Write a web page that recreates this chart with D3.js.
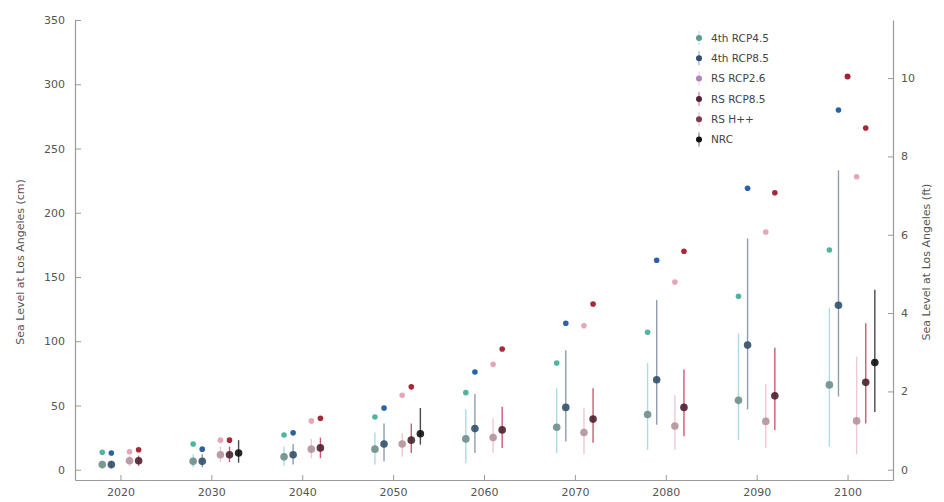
<!DOCTYPE html>
<html><head><meta charset="utf-8">
<script src="https://cdn.jsdelivr.net/npm/d3@7"></script>
<style>body{margin:0;background:#fff}svg{display:block}text{font-family:"DejaVu Sans",sans-serif}</style>
</head><body>
<svg id="c" width="944" height="502"></svg>
<script>
const decades = [2020, 2030, 2040, 2050, 2060, 2070, 2080, 2090, 2100];
const seriesNames = ["4th RCP4.5", "4th RCP8.5", "RS RCP2.6", "RS RCP8.5", "RS H++", "NRC"];

const rcp45_4th_median = [4, 6.5, 10, 16, 24, 33, 43, 54, 66];
const rcp45_4th_low    = [1, 2, 3, 4, 5, 13, 15.5, 23, 18];
const rcp45_4th_high   = [7, 12, 18, 29, 47, 63.5, 83, 106, 126];
const rcp45_4th_upper  = [13.5, 20, 27, 41, 60, 83, 107, 135, 171];

const rcp85_4th_median = [4, 6.5, 11.7, 20, 32, 48.5, 70, 97, 128];
const rcp85_4th_low    = [1, 2, 4, 6.5, 13, 22, 35, 47, 57];
const rcp85_4th_high   = [7, 12, 20, 36, 59, 93, 132, 180, 233];
const rcp85_4th_upper  = [13, 16, 28.7, 48, 76, 114, 163, 219, 280];

const rs26_median = [7, 11.7, 16, 20, 25, 29, 34, 37.6, 38];
const rs26_low    = [3, 6, 9, 10, 13, 12, 15.5, 17, 12];
const rs26_high   = [11, 18, 24, 28.5, 40, 48, 58, 67, 88];
const rs26_upper  = [14, 23, 38, 58, 82, 112, 146, 185, 228];

const rs85_median = [7, 11.7, 17, 23, 31, 39.4, 48.5, 57.5, 68];
const rs85_low    = [3, 6, 9, 13, 17, 21, 26, 31, 36];
const rs85_high   = [11, 18, 25, 36, 49, 63.5, 78, 95, 114];
const rs85_upper  = [15.5, 23, 40, 64.5, 94, 129, 170, 215.6, 266];

const hpp_years = [2100];
const hpp_value = [306];

const nrc_years  = [2030, 2050, 2100];
const nrc_median = [13, 28, 83.5];
const nrc_low    = [5.5, 19.5, 45];
const nrc_high   = [23, 48, 140];

const xTicks = [2020, 2030, 2040, 2050, 2060, 2070, 2080, 2090, 2100];
const yTicksCm = [0, 50, 100, 150, 200, 250, 300, 350];
const yTicksFt = [0, 2, 4, 6, 8, 10];

const svg = d3.select("#c");
const L = 75, R = 893, T = 20, B = 480;
const x = d3.scaleLinear().domain([2015, 2105]).range([L, R]);
const y = d3.scaleLinear().domain([-8, 350]).range([B, T]);
const yFt = d3.scaleLinear().domain([-8 / 30.48, 350 / 30.48]).range([B, T]);

const axisColor = "#9a9a9a", labelColor = "#555";

// axes
const gx = svg.append("g").attr("transform", `translate(0,${B})`)
  .call(d3.axisBottom(x).tickValues(xTicks).tickFormat(d3.format("d")).tickSizeInner(-5).tickSizeOuter(0).tickPadding(8));
const gy = svg.append("g").attr("transform", `translate(${L},0)`)
  .call(d3.axisLeft(y).tickValues(yTicksCm).tickSizeInner(-6).tickSizeOuter(0).tickPadding(10));
const gr = svg.append("g").attr("transform", `translate(${R},0)`)
  .call(d3.axisRight(yFt).tickValues(yTicksFt).tickSizeInner(-5).tickSizeOuter(0).tickPadding(8));
[gx, gy, gr].forEach(g => {
  g.select(".domain").attr("stroke", axisColor).attr("stroke-width", 1.2);
  g.selectAll(".tick line").attr("stroke", axisColor);
  g.selectAll(".tick text").attr("fill", labelColor).style("font-size", "11px");
});

svg.append("text").attr("transform", `translate(24,262) rotate(-90)`).attr("text-anchor", "middle")
  .attr("fill", labelColor).style("font-size", "11px").text("Sea Level at Los Angeles (cm)");
svg.append("text").attr("transform", `translate(930,262) rotate(-90)`).attr("text-anchor", "middle")
  .attr("fill", labelColor).style("font-size", "11px").text("Sea Level at Los Angeles (ft)");

const series = [
  {name: seriesNames[0], years: decades, off: -2, med: rcp45_4th_median, lo: rcp45_4th_low, hi: rcp45_4th_high, up: rcp45_4th_upper,
   bar: "#a8dce6", medC: "#6f8e8b", upC: "#4fb5a0", leg: "#5f9a8e"},
  {name: seriesNames[1], years: decades, off: -1, med: rcp85_4th_median, lo: rcp85_4th_low, hi: rcp85_4th_high, up: rcp85_4th_upper,
   bar: "#8e9cb2", medC: "#33506a", upC: "#2a62a8", leg: "#2f4d72"},
  {name: seriesNames[2], years: decades, off: 1, med: rs26_median, lo: rs26_low, hi: rs26_high, up: rs26_upper,
   bar: "#f2c6d2", medC: "#b3949c", upC: "#e5a6bb", leg: "#a985b8"},
  {name: seriesNames[3], years: decades, off: 2, med: rs85_median, lo: rs85_low, hi: rs85_high, up: rs85_upper,
   bar: "#cf5a70", medC: "#4e2030", upC: "#a82838", leg: "#4e2436"},
  {name: seriesNames[5], years: nrc_years, off: 3, med: nrc_median, lo: nrc_low, hi: nrc_high, up: null,
   bar: "#4a4a4a", medC: "#111111", upC: "#111", leg: "#111"}
];

const plot = svg.append("g");
series.forEach(s => {
  const pts = s.years.map((yr, i) => ({x: yr + s.off, m: s.med[i], lo: s.lo[i], hi: s.hi[i], up: s.up ? s.up[i] : null}));
  plot.selectAll(null).data(pts).enter().append("line")
    .attr("x1", d => x(d.x)).attr("x2", d => x(d.x))
    .attr("y1", d => y(d.lo)).attr("y2", d => y(d.hi))
    .attr("stroke", s.bar).attr("stroke-width", 1.4);
});
series.forEach(s => {
  const pts = s.years.map((yr, i) => ({x: yr + s.off, m: s.med[i], up: s.up ? s.up[i] : null}));
  plot.selectAll(null).data(pts.filter(d => d.up != null)).enter().append("circle")
    .attr("cx", d => x(d.x)).attr("cy", d => y(d.up)).attr("r", 2.8)
    .attr("fill", s.upC).attr("stroke", "none");
  plot.selectAll(null).data(pts).enter().append("circle")
    .attr("cx", d => x(d.x)).attr("cy", d => y(d.m)).attr("r", 3.8)
    .attr("fill", s.medC).attr("fill-opacity", 0.9);
});
// H++
plot.selectAll(null).data(hpp_years.map((yr, i) => ({x: yr, v: hpp_value[i]}))).enter().append("circle")
  .attr("cx", d => x(d.x)).attr("cy", d => y(d.v)).attr("r", 3)
  .attr("fill", "#a02236");

// legend
const legColors = [series[0].leg, series[1].leg, series[2].leg, series[3].leg, "#7a3a50", "#111"];
const legBars = [series[0].bar, series[1].bar, series[2].bar, series[3].bar, "#e6b0c0", "#666"];
const lg = svg.append("g");
seriesNames.forEach((n, i) => {
  const yy = 38 + i * 20.3;
  lg.append("line").attr("x1", 699).attr("x2", 699).attr("y1", yy - 7).attr("y2", yy + 7)
    .attr("stroke", legBars[i]).attr("stroke-width", 1);
  lg.append("circle").attr("cx", 699).attr("cy", yy).attr("r", 3).attr("fill", legColors[i]);
  lg.append("text").attr("x", 711).attr("y", yy + 3.8).attr("fill", "#444").style("font-size", "10.5px").text(n);
});
</script>
</body></html>
